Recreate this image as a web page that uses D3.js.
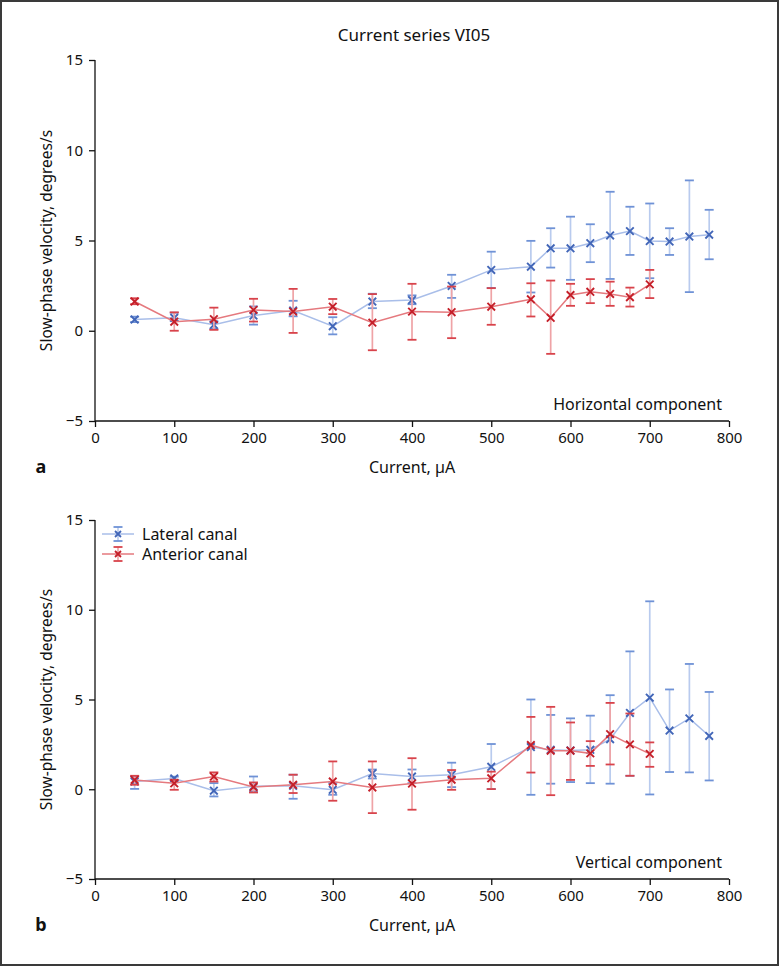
<!DOCTYPE html>
<html lang="en">
<head>
<meta charset="UTF-8">
<title>Current series VI05</title>
<script src="https://cdn.jsdelivr.net/npm/d3@7"></script>
<style>
  body { margin: 0; background: #fff; }
  text { font-family: "Noto Sans", "Open Sans", sans-serif; fill: #111; }
</style>
</head>
<body>
<script>
  const W = 779, H = 966

  // currents (µA)
  const curLat = [50, 100, 150, 200, 250, 300, 350, 400, 450, 500, 550, 575, 600, 625, 650, 675, 700, 725, 750, 775]
  const curAnt = [50, 100, 150, 200, 250, 300, 350, 400, 450, 500, 550, 575, 600, 625, 650, 675, 700]

  // a: horizontal component
  const hLat   = [0.62, 0.72, 0.33, 0.84, 1.12, 0.25, 1.62, 1.70, 2.48, 3.37, 3.55, 4.57, 4.57, 4.85, 5.28, 5.52, 4.97, 4.94, 5.22, 5.32]
  const hLatHi = [0.78, 1.00, 0.52, 1.35, 1.66, 0.75, 2.05, 1.96, 3.10, 4.38, 4.98, 5.68, 6.32, 5.90, 7.70, 6.87, 7.05, 5.68, 8.33, 6.70]
  const hLatLo = [0.48, 0.55, 0.10, 0.34, 0.80, -0.20, 1.25, 1.47, 1.82, 2.37, 2.12, 3.50, 2.82, 3.80, 2.87, 4.20, 2.91, 4.20, 2.14, 3.96]
  const hAnt   = [1.62, 0.50, 0.64, 1.15, 1.06, 1.33, 0.45, 1.06, 1.03, 1.33, 1.74, 0.72, 1.98, 2.16, 2.04, 1.86, 2.57]
  const hAntHi = [1.80, 1.02, 1.28, 1.77, 2.32, 1.76, 2.03, 2.60, 2.45, 2.36, 2.63, 2.78, 2.60, 2.86, 2.72, 2.39, 3.37]
  const hAntLo = [1.47, 0.00, 0.05, 0.51, -0.12, 0.92, -1.08, -0.50, -0.41, 0.33, 0.79, -1.28, 1.38, 1.53, 1.38, 1.34, 1.81]

  // b: vertical component
  const vLat   = [0.43, 0.60, -0.08, 0.16, 0.19, -0.03, 0.88, 0.71, 0.81, 1.25, 2.35, 2.20, 2.16, 2.20, 2.79, 4.25, 5.10, 3.27, 3.95, 2.97]
  const vLatHi = [0.71, 0.70, 0.34, 0.71, 0.81, 0.34, 1.10, 1.10, 1.48, 2.52, 5.00, 4.14, 3.95, 4.10, 5.24, 7.68, 10.47, 5.56, 6.98, 5.42]
  const vLatLo = [0.02, 0.50, -0.40, -0.12, -0.53, -0.31, 0.60, 0.34, 0.12, 0.01, -0.31, 0.31, 0.40, 0.34, 0.31, 0.75, -0.29, 0.96, 0.94, 0.49]
  const vAnt   = [0.52, 0.33, 0.71, 0.12, 0.25, 0.43, 0.10, 0.32, 0.53, 0.61, 2.46, 2.15, 2.15, 2.00, 3.07, 2.50, 1.97]
  const vAntHi = [0.75, 0.53, 0.94, 0.38, 0.81, 1.55, 1.55, 1.73, 1.07, 0.98, 4.03, 4.59, 3.72, 2.68, 4.81, 4.22, 2.61]
  const vAntLo = [0.25, -0.03, 0.43, -0.18, -0.21, -0.64, -1.33, -1.14, -0.03, 0.01, 0.93, -0.33, 0.52, 1.30, 1.38, 0.75, 1.25]

  const xTicks = [0, 100, 200, 300, 400, 500, 600, 700, 800]
  const yTicks = [-5, 0, 5, 10, 15]

  const blue = { line: '#a9bee9', bar: '#b9cbee', cap: '#6f92d6', mark: '#4266b8' }
  const red  = { line: '#e5797e', bar: '#efa3a6', cap: '#d8434b', mark: '#c51f29' }

  const svg = d3.select('body').append('svg')
    .attr('width', W)
    .attr('height', H)

  svg.append('rect')
    .attr('x', 1).attr('y', 1)
    .attr('width', W - 2).attr('height', H - 2)
    .attr('fill', '#fff')
    .attr('stroke', '#3a3a3a')
    .attr('stroke-width', 2)

  svg.append('text')
    .attr('x', 414).attr('y', 41)
    .attr('text-anchor', 'middle')
    .attr('font-size', 17)
    .text('Current series VI05')

  const x = d3.scaleLinear().domain([0, 800]).range([95, 729])

  const cross = 3.8

  function series(g, y, xs, mean, hi, lo, c) {
    const pts = xs.map((v, i) => ({ x: v, m: mean[i], hi: hi[i], lo: lo[i] }))
    const line = d3.line().x(d => x(d.x)).y(d => y(d.m))
    g.append('path')
      .attr('d', line(pts))
      .attr('fill', 'none')
      .attr('stroke', c.line)
      .attr('stroke-width', 1.5)

    const e = g.append('g').selectAll('g').data(pts).enter().append('g')
    e.append('line')
      .attr('x1', d => x(d.x)).attr('x2', d => x(d.x))
      .attr('y1', d => y(d.hi)).attr('y2', d => y(d.lo))
      .attr('stroke', c.bar).attr('stroke-width', 1.7)
    e.selectAll('.cap').data(d => [[d.x, d.hi], [d.x, d.lo]]).enter().append('line')
      .attr('x1', d => x(d[0]) - 4.5).attr('x2', d => x(d[0]) + 4.5)
      .attr('y1', d => y(d[1])).attr('y2', d => y(d[1]))
      .attr('stroke', c.cap).attr('stroke-width', 1.8)
    e.append('path')
      .attr('d', d => {
        const px = x(d.x), py = y(d.m)
        return `M${px - cross},${py - cross}L${px + cross},${py + cross}M${px - cross},${py + cross}L${px + cross},${py - cross}`
      })
      .attr('stroke', c.mark).attr('stroke-width', 1.9)
  }

  function panel(top, bottom, letter, label, lat, latHi, latLo, ant, antHi, antLo, legend) {
    const y = d3.scaleLinear().domain([-5, 15]).range([bottom, top])
    const g = svg.append('g')

    const xAxis = g.append('g')
      .attr('transform', `translate(0,${bottom})`)
      .call(d3.axisBottom(x).tickValues(xTicks).tickSize(6).tickPadding(5).tickFormat(d3.format('d')))
    const yAxis = g.append('g')
      .attr('transform', `translate(95,0)`)
      .call(d3.axisLeft(y).tickValues(yTicks).tickSize(6).tickPadding(6).tickFormat(d => d < 0 ? '\u2212' + Math.abs(d) : d))
    ;[xAxis, yAxis].forEach(a => {
      a.select('.domain').attr('stroke', '#111').attr('stroke-width', 1.3)
      a.selectAll('.tick line').attr('stroke', '#111').attr('stroke-width', 1.3)
      a.selectAll('text').attr('font-size', 15).attr('fill', '#111')
        .style('font-family', '"Noto Sans", sans-serif')
    })
    // axisBottom draws outer ticks, remove the end stubs of the domain path
    xAxis.select('.domain').attr('d', `M95,0H729`)
    yAxis.select('.domain').attr('d', `M0,${bottom}V${top}`)

    g.append('text')
      .attr('x', 412).attr('y', bottom + 52)
      .attr('text-anchor', 'middle')
      .attr('font-size', 16)
      .text('Current, \u00b5A')

    g.append('text')
      .attr('x', 41).attr('y', bottom + 52)
      .attr('text-anchor', 'middle')
      .attr('font-size', 18)
      .attr('font-weight', 'bold')
      .text(letter)

    g.append('text')
      .attr('transform', `translate(52,${(top + bottom) / 2}) rotate(-90)`)
      .attr('text-anchor', 'middle')
      .attr('font-size', 15.5)
      .text('Slow-phase velocity, degrees/s')

    g.append('text')
      .attr('x', 722).attr('y', bottom - 11)
      .attr('text-anchor', 'end')
      .attr('font-size', 16)
      .text(label)

    series(g, y, curLat, lat, latHi, latLo, blue)
    series(g, y, curAnt, ant, antHi, antLo, red)

    if (legend) {
      const items = [['Lateral canal', blue], ['Anterior canal', red]]
      const lg = g.selectAll('.lg').data(items).enter().append('g')
        .attr('transform', (d, i) => `translate(0,${top + 14 + i * 20})`)
      lg.append('line').attr('x1', 102).attr('x2', 134).attr('y1', 0).attr('y2', 0)
        .attr('stroke', d => d[1].line).attr('stroke-width', 1.5)
      lg.append('line').attr('x1', 118).attr('x2', 118).attr('y1', -7).attr('y2', 7)
        .attr('stroke', d => d[1].bar).attr('stroke-width', 1.6)
      lg.selectAll('.c').data(d => [[-7, d[1]], [7, d[1]]]).enter().append('line')
        .attr('x1', 113.5).attr('x2', 122.5).attr('y1', d => d[0]).attr('y2', d => d[0])
        .attr('stroke', d => d[1].cap).attr('stroke-width', 1.8)
      lg.append('path')
        .attr('d', `M${118 - 3},-3L${118 + 3},3M${118 - 3},3L${118 + 3},-3`)
        .attr('stroke', d => d[1].mark).attr('stroke-width', 1.8)
      lg.append('text').attr('x', 142).attr('y', 5.5)
        .attr('font-size', 16)
        .text(d => d[0])
    }
  }

  panel(60, 421, 'a', 'Horizontal component', hLat, hLatHi, hLatLo, hAnt, hAntHi, hAntLo, false)
  panel(520, 879, 'b', 'Vertical component', vLat, vLatHi, vLatLo, vAnt, vAntHi, vAntLo, true)
</script>
</body>
</html>
